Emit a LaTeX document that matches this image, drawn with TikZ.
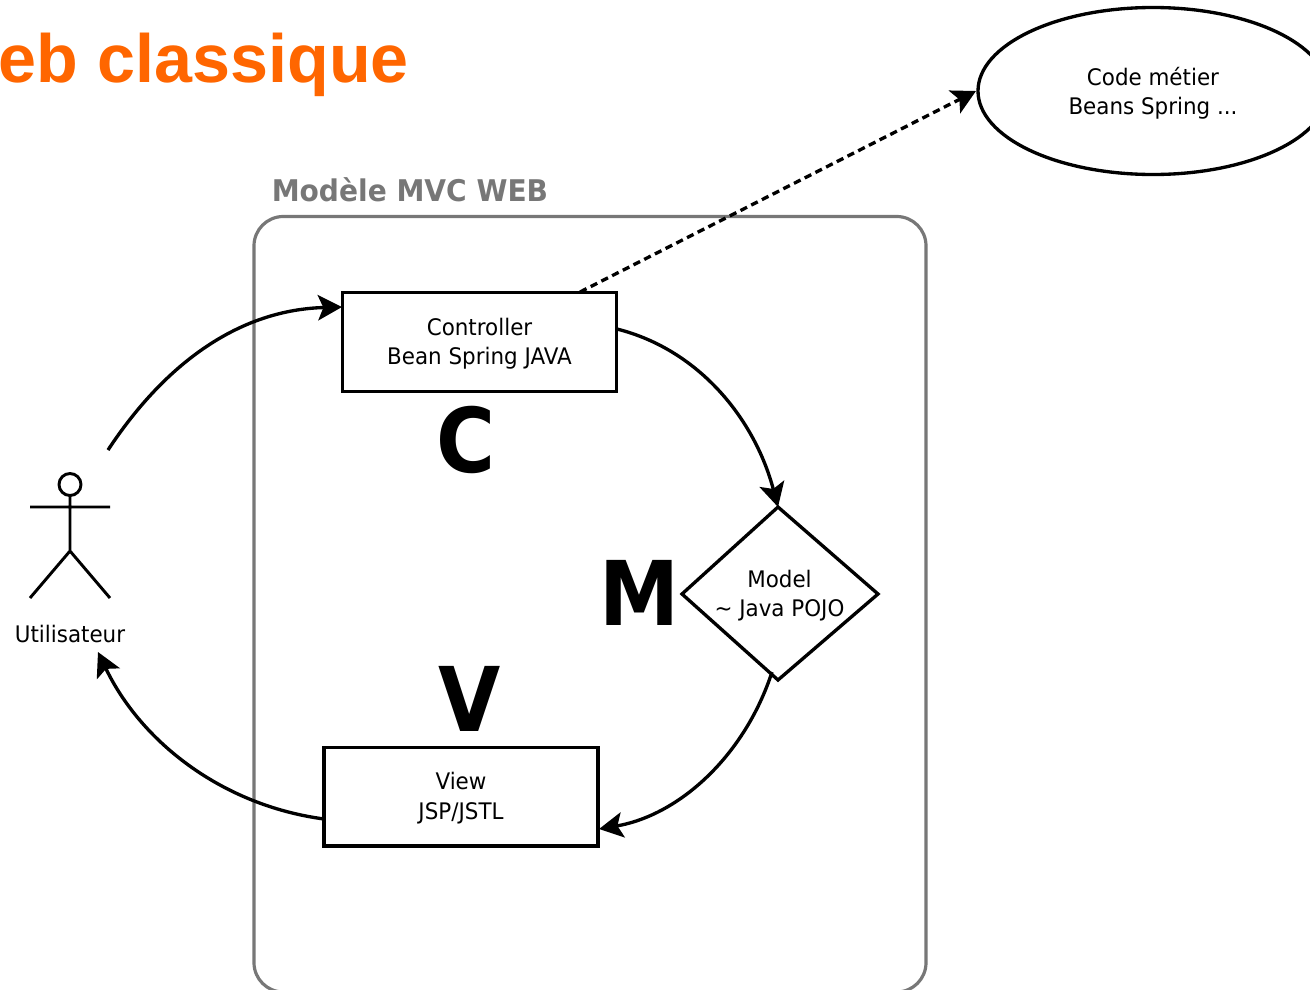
\documentclass[tikz,border=0pt]{standalone}
\usepackage{fontspec}
\setmainfont{DejaVu Sans}[FakeStretch=0.94]
\newfontfamily\bigfont{DejaVu Sans Condensed}
\newfontfamily\titlefont{Liberation Sans}
\usetikzlibrary{arrows.meta,shapes.geometric,calc}
\definecolor{orangett}{HTML}{FF6600}
\definecolor{framegray}{HTML}{777777}
\tikzset{
 px/.style={x=0.75pt,y=-0.75pt},
 box/.style={draw=black,line width=2.5pt,minimum width=205.5pt,minimum height=74pt,inner sep=0pt},
 lbl/.style={align=center,font=\fontsize{17.1}{22}\selectfont,inner sep=0pt},
 big/.style={font=\bigfont\bfseries\fontsize{67}{72}\selectfont,inner sep=0pt},
 conn/.style={line width=2.5pt,-{Stealth[length=18pt,width=19pt,inset=4pt]}},
 actor/.style={line width=2.2pt}
}
\begin{document}
\begin{tikzpicture}[px]
\useasboundingbox (0,0) rectangle (1310,989);
\clip (0,0) rectangle (1310,989);
\node[anchor=base east,text=orangett,inner sep=0pt,font=\titlefont\bfseries\fontsize{51.2}{60}\selectfont] (title) at (409,82) {eb classique};
% frame
\draw[framegray,line width=2.4pt,rounded corners=22pt] (254,216.5) rectangle (926,992);
\node[anchor=base west,text=framegray,inner sep=0pt,font=\bfseries\fontsize{22.4}{26}\selectfont] (frametitle) at (271.5,201.5) {Modèle MVC WEB};
% nodes
\node[box] (ctrl) at (479.5,342) {};
\node[lbl] (ctrltxt) at (479.5,344) {Controller\\Bean Spring JAVA};
\node[box] (view) at (461,796.5) {};
\node[lbl] (viewtxt) at (461,798) {View\\JSP/JSTL};
\coordinate (mT) at (778,507);\coordinate (mR) at (878,594);\coordinate (mB) at (778,680);\coordinate (mL) at (682,594);
\draw[line width=2.5pt,line join=miter] (mT)--(mR)--(mB)--(mL)--cycle;
\node[lbl] (model) at (779.5,595.5) {Model\\\textasciitilde{} Java POJO};
\draw[line width=2.5pt] (1153,91) ellipse (175 and 83.5);
\coordinate (code) at (976,91);
\node[lbl] (codetxt) at (1153,93.5) {Code métier\\Beans Spring ...};
\node[big] (C) at (465.5,440) {C};
\node[big] (M) at (639,592.5) {M};
\node[big] (V) at (470,699) {V};
% actor
\draw[actor] (70,484.5) circle (11);
\draw[actor] (70,496)--(70,551) (30,507)--(110,507) (30,598)--(70,551)--(110,598);
\node[lbl] (user) at (70,634) {Utilisateur};
% connectors
\coordinate (uOut) at (108,450);
\coordinate (uIn) at (98,652);
\coordinate (cOut) at (617,329);
\coordinate (vIn) at (599,829);
\coordinate (vOut) at (324,819);
\coordinate (cIn) at (342,307);
\coordinate (dashStart) at (580,292);
\coordinate (mOut) at (772,672);
\draw[conn] (uOut) .. controls (162,368) and (235,310) .. (cIn);
\draw[conn] (cOut) .. controls (700,350) and (755,420) .. (mT);
\draw[conn] (mOut) .. controls (745,755) and (680,815) .. (vIn);
\draw[conn] (vOut) .. controls (220,805) and (140,740) .. (uIn);
\draw[line width=2.5pt,dash pattern=on 5.5pt off 3.5pt,-{Stealth[length=18pt,width=19pt,inset=4pt]}] (dashStart) -- (code);
\end{tikzpicture}
\end{document}
